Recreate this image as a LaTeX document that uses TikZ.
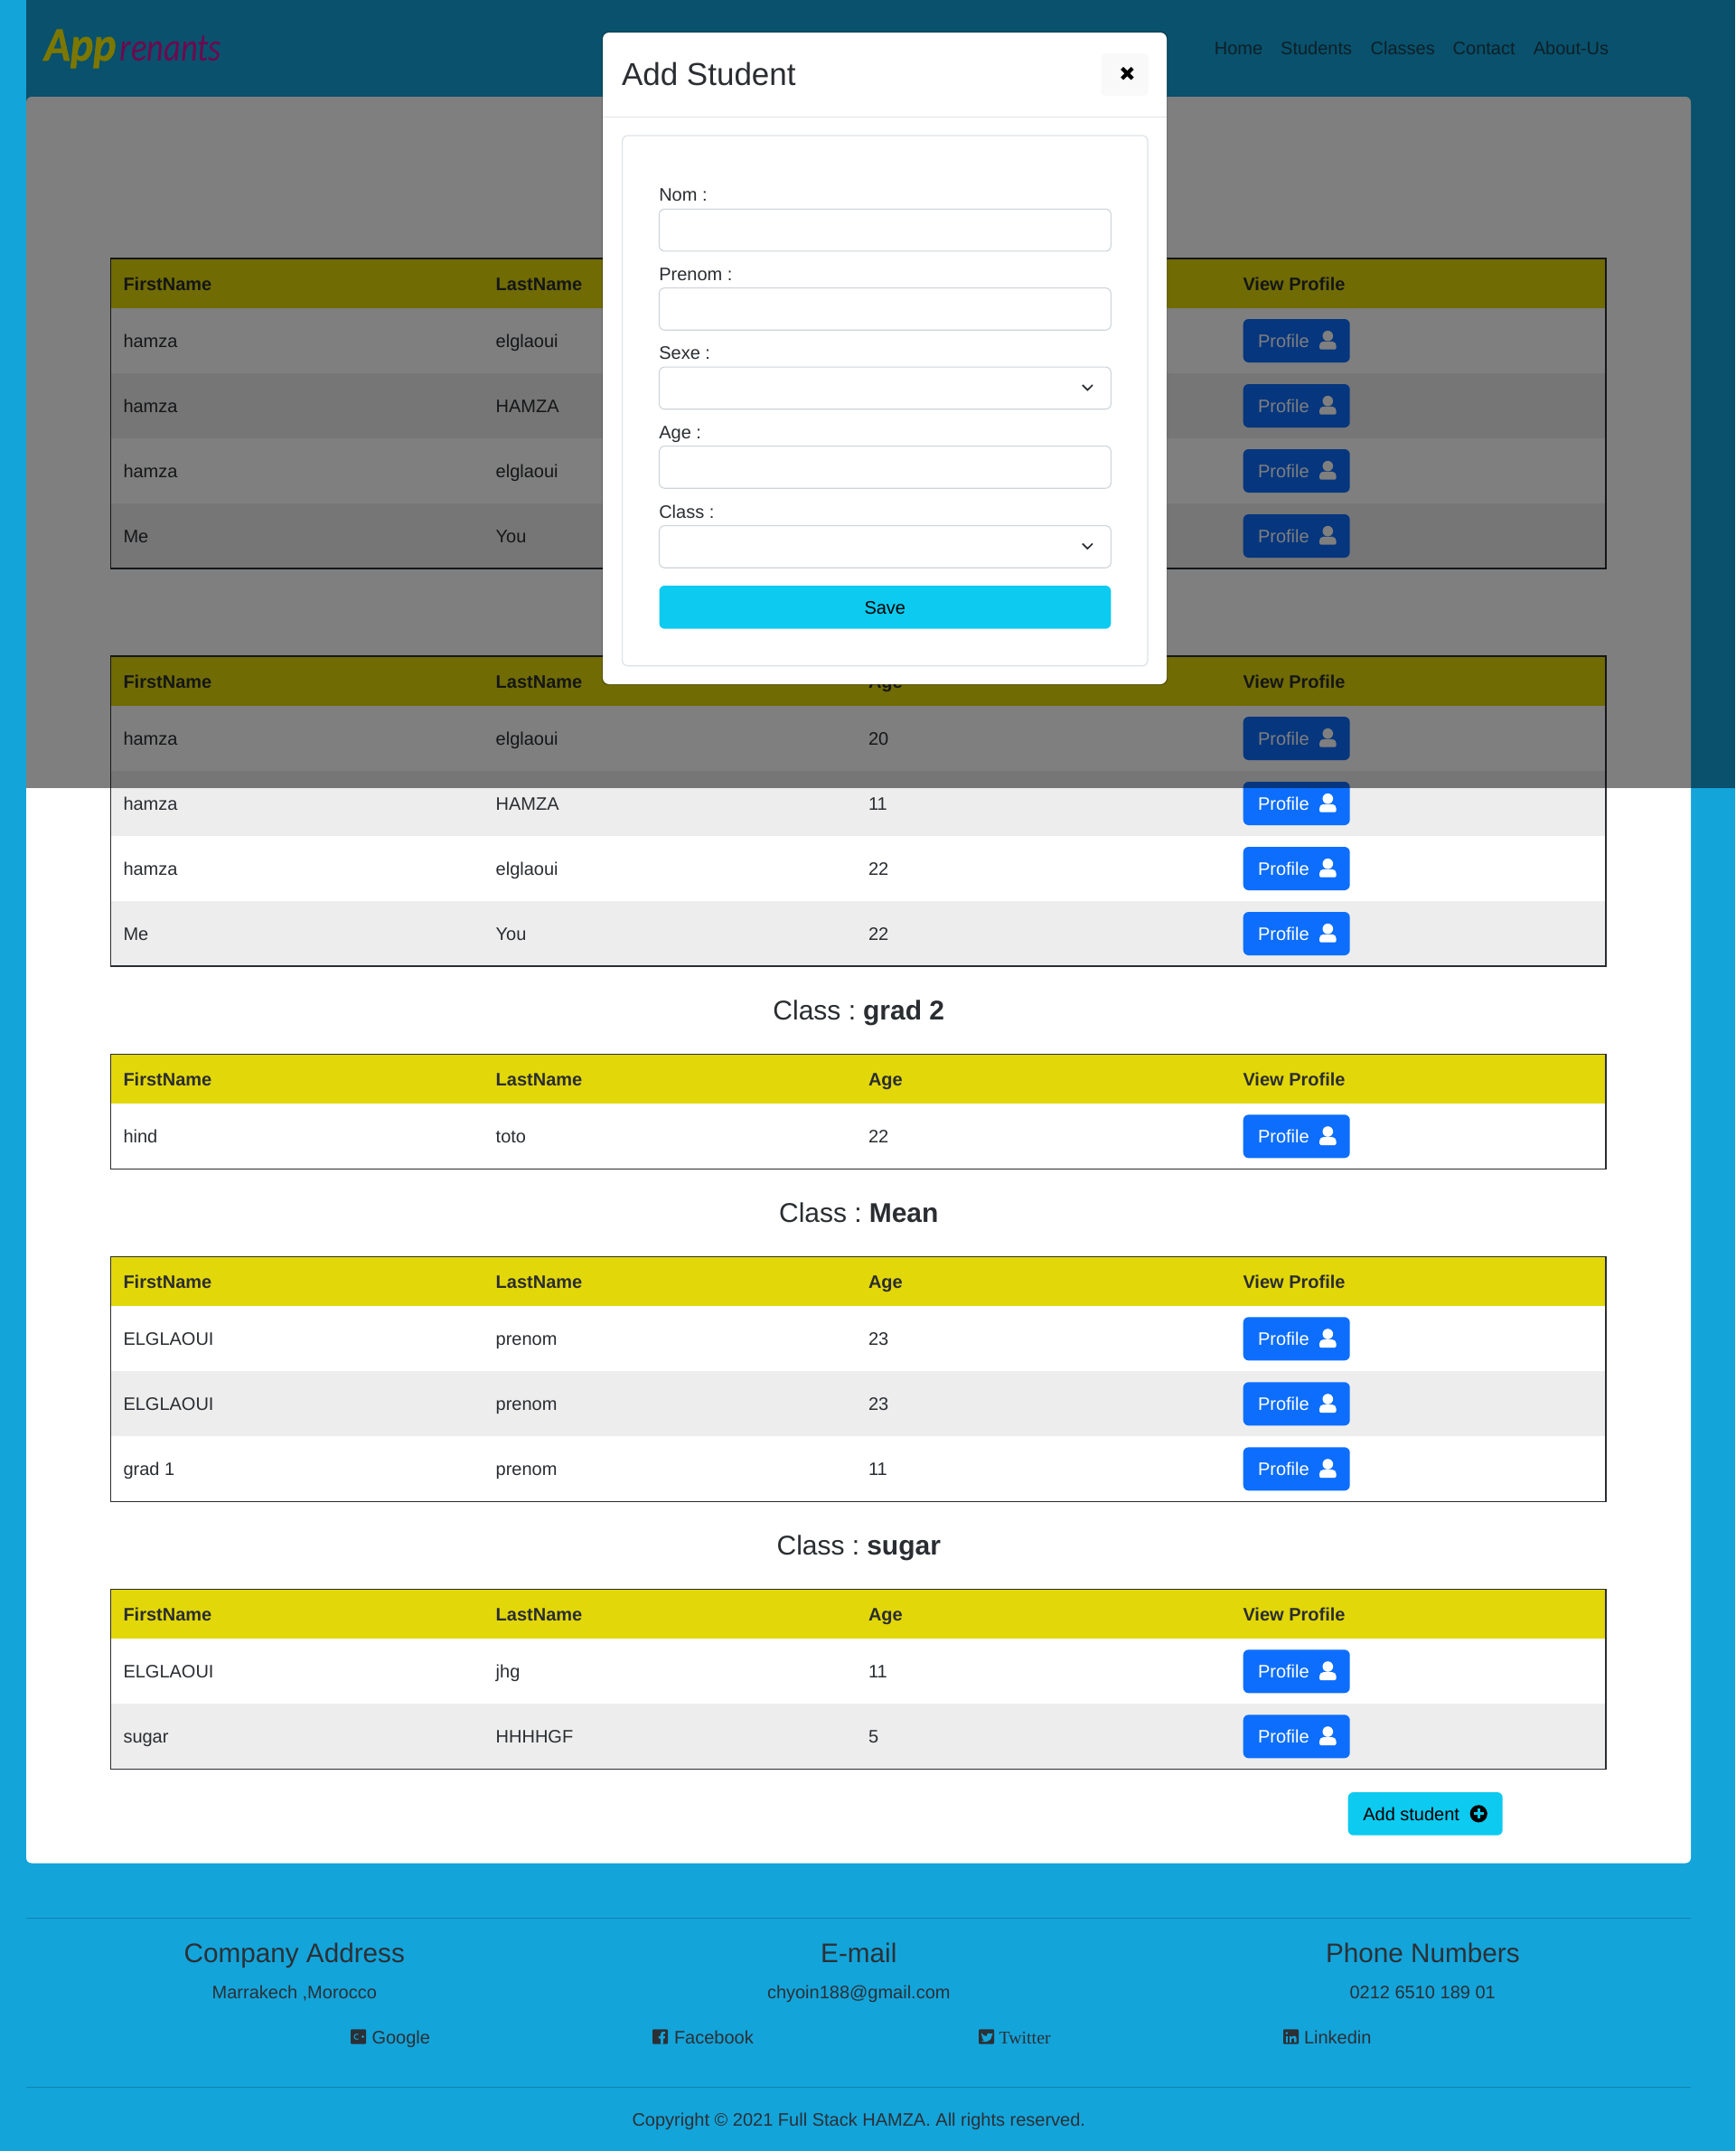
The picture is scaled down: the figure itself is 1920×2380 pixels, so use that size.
\documentclass[tikz,border=0pt]{standalone}
\usepackage{fontspec}
\setmainfont{Liberation Sans}
\newfontfamily\logofont[BoldItalicFeatures={FakeBold=1.2}]{Carlito}
\newfontfamily\serifface{Liberation Serif}
\definecolor{pagebg}{HTML}{13A4DA}
\definecolor{inkc}{HTML}{2A2D31}
\definecolor{framec}{HTML}{2A2D31}
\definecolor{footink}{HTML}{2C3035}
\definecolor{headyel}{HTML}{E2D708}
\definecolor{stripe}{HTML}{EDEDED}
\definecolor{btnblue}{HTML}{0D6EFD}
\definecolor{btncyan}{HTML}{0DCAF0}
\definecolor{rulec}{HTML}{DEE2E6}
\definecolor{inputc}{HTML}{CED4DA}
\definecolor{navink}{HTML}{1E4050}
\definecolor{footrule}{HTML}{0F84AF}
\definecolor{logoa}{HTML}{FAF000}
\definecolor{logob}{HTML}{DC14A0}
\tikzset{
  txt/.style={inner sep=0pt,outer sep=0pt,anchor=base west,text=inkc,font=\fontsize{20}{24}\selectfont},
  txtb/.style={txt,font=\fontsize{20}{24}\selectfont\bfseries},
  foot/.style={txt,anchor=base,text=footink},
  foothead/.style={foot,font=\fontsize{29.7}{34}\selectfont},
  footleft/.style={txt,text=footink},
  classhead/.style={txt,anchor=base,font=\fontsize{30}{36}\selectfont},
  navlink/.style={txt,text=navink},
  field/.style={draw=inputc,line width=1.1pt,fill=white,rounded corners=6pt},
  chev/.style={draw=inkc,line width=1.7pt},
  socialbox/.style={fill=footink},
  socialglyph/.style={fill=pagebg},
}
\newcommand{\headrow}[2]{%
  \fill[headyel] (122.8,#2) rectangle (1777,#2+55);
  \node[txtb] (#1a) at (136.5,#2+35) {FirstName};
  \node[txtb] (#1b) at (548.7,#2+35) {LastName};
  \node[txtb] (#1d) at (1375.5,#2+35) {View Profile};
}
\newcommand{\agehead}[2]{\node[txtb] (#1c) at (961,#2+35) {Age};}
\newcommand{\profilebtn}[2]{%
  \fill[btnblue,rounded corners=6pt] (1375.7,#2-24) rectangle (1493.7,#2+24);
  \node[txt,text=white] (#1p) at (1392,#2+7) {Profile};
  \fill[white] (1469.3,#2-5.3) circle (5.8);
  \fill[white] (1460,#2+9.7) [rounded corners=1.5pt] -- (1478.6,#2+9.7) [rounded corners=4.5pt] -- (1478.6,#2+0.8) -- (1460,#2+0.8) [rounded corners=1.5pt] -- cycle;
}
% name, centre y, stripe colour, first, last, age
\newcommand{\datarow}[6]{%
  \fill[#3] (122.8,#2-36) rectangle (1777,#2+36);
  \node[txt] (#1a) at (136.5,#2+7) {#4};
  \node[txt] (#1b) at (548.7,#2+7) {#5};
  \if\relax\detokenize{#6}\relax\else\node[txt] (#1c) at (961,#2+7) {#6};\fi
  \profilebtn{#1}{#2}
}
\newcommand{\tableframe}[2]{\draw[framec,line width=1.15pt] (122.8,#1) rectangle (1777,#2);}
\newcommand{\formfield}[4]{%
  \node[txt] (#1l) at (729.3,#3) {#2};
  \path[field] (729.5,#3+8.6) rectangle (1229.3,#3+55.2);
  \ifnum#4=1
    \draw[chev] (1197.8,#3+28.5) -- (1203.4,#3+34) -- (1209,#3+28.5);
  \fi
}
\begin{document}
\begin{tikzpicture}[x=1pt,y=-1pt]
\useasboundingbox (0,0) rectangle (1920,2380);
\fill[pagebg] (0,0) rectangle (1920,2380);
% panel
\fill[white,rounded corners=6pt] (29,107) rectangle (1871,2061.5);
% logo
\node[txt,text=logoa,font=\fontsize{53}{57}\logofont\bfseries\itshape\selectfont] (logoapp) at (49,67) {\scalebox{.9}[1]{App}};
\node[txt,text=logob,font=\fontsize{44}{48}\logofont\itshape\selectfont] (logorest) at (132.5,67) {\scalebox{.83}[1]{renants}};
% nav
\node[navlink] (navhome) at (1343.8,60) {Home};
\node[navlink] (navstud) at (1417.2,60) {Students};
\node[navlink] (navclass) at (1516.7,60) {Classes};
\node[navlink] (navcont) at (1607.7,60) {Contact};
\node[navlink] (navabout) at (1696.8,60) {About-Us};
% table 1
\headrow{ta}{286}
\datarow{ta1}{377}{white}{hamza}{elglaoui}{}
\datarow{ta2}{449}{stripe}{hamza}{HAMZA}{}
\datarow{ta3}{521}{white}{hamza}{elglaoui}{}
\datarow{ta4}{593}{stripe}{Me}{You}{}
\tableframe{286}{629}
% table 2
\headrow{tb}{726}\agehead{tb}{726}
\datarow{tb1}{817}{white}{hamza}{elglaoui}{20}
\datarow{tb2}{889}{stripe}{hamza}{HAMZA}{11}
\datarow{tb3}{961}{white}{hamza}{elglaoui}{22}
\datarow{tb4}{1033}{stripe}{Me}{You}{22}
\tableframe{726}{1069}
% table 3
\node[classhead] (hgrad) at (950.3,1128) {Class :\hspace{8pt}\textbf{grad 2}};
\headrow{tc}{1166.3}\agehead{tc}{1166.3}
\datarow{tc1}{1257.3}{white}{hind}{toto}{22}
\tableframe{1166.3}{1293.3}
% table 4
\node[classhead] (hmean) at (950.3,1352.5) {Class :\hspace{8pt}\textbf{Mean}};
\headrow{td}{1390.3}\agehead{td}{1390.3}
\datarow{td1}{1481.3}{white}{ELGLAOUI}{prenom}{23}
\datarow{td2}{1553.3}{stripe}{ELGLAOUI}{prenom}{23}
\datarow{td3}{1625.3}{white}{grad 1}{prenom}{11}
\tableframe{1390.3}{1661.3}
% table 5
\node[classhead] (hsugar) at (950.3,1720.5) {Class :\hspace{8pt}\textbf{sugar}};
\headrow{te}{1758.3}\agehead{te}{1758.3}
\datarow{te1}{1849.3}{white}{ELGLAOUI}{jhg}{11}
\datarow{te2}{1921.3}{stripe}{sugar}{HHHHGF}{5}
\tableframe{1758.3}{1957.3}
% add student
\fill[btncyan,rounded corners=6pt] (1491.7,1983) rectangle (1662.7,2030.7);
\node[txt,text=black] (addst) at (1508.3,2014) {Add student};
\fill[black] (1636.2,2006.8) circle (9.6);
\fill[btncyan] (1630.6,2005.2) rectangle (1641.8,2008.4);
\fill[btncyan] (1634.6,2001.2) rectangle (1637.8,2012.4);
% footer
\draw[footrule,line width=1.5pt] (29,2122.3) -- (1871,2122.3);
\draw[footrule,line width=1.5pt] (29,2309.3) -- (1871,2309.3);
\node[foothead] (fa) at (325.8,2171.3) {Company Address};
\node[foot] (fa2) at (325.8,2211.3) {Marrakech ,Morocco};
\node[foothead] (fb) at (950.3,2171.3) {E-mail};
\node[foot] (fb2) at (950.3,2211.3) {chyoin188@gmail.com};
\node[foothead] (fc) at (1574.4,2171.3) {Phone Numbers};
\node[foot] (fc2) at (1574.2,2211.3) {0212 6510 189 01};
% social icons
\fill[socialbox,rounded corners=1pt] (388,2245.3) rectangle (405,2261.7);
\draw[pagebg,line width=1pt] (396.5,2251) arc[start angle=-60,end angle=-300,x radius=3,y radius=3] ;
\draw[pagebg,line width=1pt] (399.5,2253.6) -- (403,2253.6) (401.2,2252) -- (401.2,2255.2);
\node[footleft] (soga) at (411.5,2261) {Google};
\fill[socialbox,rounded corners=1pt] (722,2245.3) rectangle (739,2261.7);
\fill[socialglyph] (731,2261.7) -- (731,2255.5) -- (728.8,2255.5) -- (728.8,2252.8) -- (731,2252.8) -- (731,2250.5) .. controls (731,2248.2) and (733,2247.6) .. (736,2248) -- (736,2250.3) .. controls (734.5,2250.1) and (733.8,2250.3) .. (733.8,2251.3) -- (733.8,2252.8) -- (736,2252.8) -- (735.6,2255.5) -- (733.8,2255.5) -- (733.8,2261.7) -- cycle;
\node[footleft] (sogb) at (746,2261) {Facebook};
\fill[socialbox,rounded corners=1pt] (1083,2245.3) rectangle (1100,2261.7);
\fill[socialglyph] (1086,2249.5) .. controls (1088,2252) and (1090,2253) .. (1092,2253) .. controls (1091.6,2249.5) and (1095,2248.5) .. (1096.8,2250.2) -- (1098.5,2249.6) -- (1097.6,2251.5) -- (1098.5,2251.3) -- (1097.5,2252.6) .. controls (1097.5,2257) and (1092,2261) .. (1086,2258.5) .. controls (1087.5,2258.5) and (1088.6,2258) .. (1089.4,2257.3) .. controls (1088,2257) and (1087.2,2256) .. (1087,2255.2) -- (1088.2,2255.2) .. controls (1086.8,2254.5) and (1086.2,2253.5) .. (1086.2,2252.6) -- (1087.4,2252.9) .. controls (1086,2252) and (1085.6,2250.8) .. (1086,2249.5) -- cycle;
\node[footleft,text=footink,font=\fontsize{19.8}{24}\serifface\selectfont] (sogc) at (1105.7,2261) {Twitter};
\fill[socialbox,rounded corners=1pt] (1420,2245.3) rectangle (1437,2261.7);
\fill[socialglyph] (1422.6,2252.6) rectangle (1425,2259.6);
\fill[socialglyph] (1423.8,2249.6) circle (1.4);
\fill[socialglyph] (1426.8,2252.6) rectangle (1429.2,2259.6);
\fill[socialglyph] (1429.2,2254.2) .. controls (1430.2,2252.2) and (1434.6,2251.6) .. (1434.6,2255.4) -- (1434.6,2259.6) -- (1432.2,2259.6) -- (1432.2,2256) .. controls (1432.2,2254.4) and (1429.2,2254.4) .. (1429.2,2256) -- cycle;
\node[footleft] (sogd) at (1443,2261) {Linkedin};
\node[foot] (copy) at (950.3,2352.3) {Copyright © 2021 Full Stack HAMZA. All rights reserved.};
% overlay
\fill[black,opacity=.5] (29,0) rectangle (1920,872);
% modal
\fill[black,opacity=.25,rounded corners=7pt] (666,35) rectangle (1292,758);
\fill[white,rounded corners=7pt] (667,36) rectangle (1291,757);
\draw[rulec,line width=1.2pt] (667,129.3) -- (1291,129.3);
\node[txt,font=\fontsize{35}{40}\selectfont] (mtitle) at (688,94) {Add Student};
\fill[black!2.5,rounded corners=6pt] (1218.5,59) rectangle (1270.7,106);
\draw[black,line width=4.2pt] (1241.7,75.5) -- (1253.2,87) (1253.2,75.5) -- (1241.7,87);
\draw[rulec,line width=1.2pt,rounded corners=6pt] (688.6,150) rectangle (1270,736.7);
\formfield{mnom}{Nom :}{222.7}{0}
\formfield{mpre}{Prenom :}{310}{0}
\formfield{msex}{Sexe :}{397.5}{1}
\formfield{mage}{Age :}{485}{0}
\formfield{mcls}{Class :}{573}{1}
\fill[btncyan,rounded corners=6pt] (729.5,648) rectangle (1229.3,695.7);
\node[txt,anchor=base,text=black] (msave) at (979.3,679) {Save};
\end{tikzpicture}
\end{document}
